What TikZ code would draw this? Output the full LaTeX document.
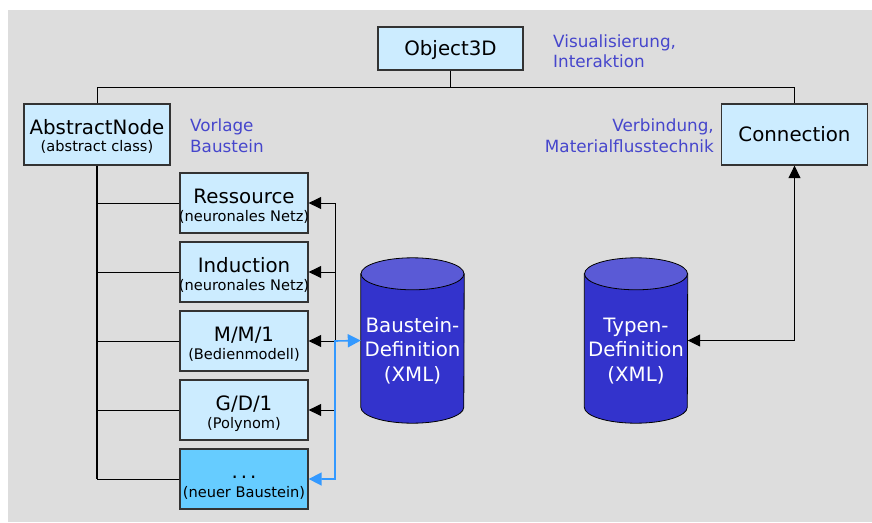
\documentclass[tikz,border=0pt]{standalone}
\usepackage{fontspec}
\setmainfont{DejaVu Sans}
\usetikzlibrary{arrows.meta,calc}
\definecolor{bg}{HTML}{DDDDDD}
\definecolor{boxfill}{HTML}{CCECFF}
\definecolor{newfill}{HTML}{66CCFF}
\definecolor{boxline}{HTML}{333333}
\definecolor{notecol}{HTML}{4646CC}
\definecolor{cylbody}{HTML}{3333CC}
\definecolor{cyltop}{HTML}{5A5AD6}
\definecolor{bluearrow}{HTML}{3399FF}
\tikzset{
  classbox/.style={draw=boxline, line width=1.3pt, fill=boxfill, inner sep=0pt, minimum width=128pt, minimum height=60pt},
  bigbox/.style={classbox, minimum width=146pt, minimum height=61pt},
  topbox/.style={classbox, minimum width=145pt, minimum height=43pt},
  titletext/.style={inner sep=0pt, anchor=base, font=\fontsize{19.8}{22}\selectfont},
  subtext/.style={inner sep=0pt, anchor=base, font=\fontsize{14.6}{16}\selectfont},
  notetext/.style={inner sep=0pt, anchor=base west, text=notecol, font=\fontsize{16.8}{20}\selectfont},
  notetextr/.style={notetext, anchor=base east},
  cyltext/.style={inner sep=0pt, anchor=base, text=white, font=\fontsize{19.8}{22}\selectfont},
  conn/.style={draw=black, line width=1pt},
  tip/.style={-{Triangle[length=12.5pt,width=12pt]}},
  bluetip/.style={{Triangle[length=13pt,width=13pt]}-{Triangle[length=13pt,width=13pt]}},
  cylarea/.style={inner sep=0pt, minimum width=103pt, minimum height=165pt},
}
\begin{document}
\begin{tikzpicture}[x=1pt,y=-1pt]
\useasboundingbox (0,0) rectangle (872,522);
\fill[bg] (8,10) rectangle (872,522);

% boxes
\node[topbox] (obj) at (450.5,48.5) {};
\node[titletext] (objT) at ($(obj.center)+(0,7)$) {Object3D};
\node[bigbox] (abs) at (97,134.5) {};
\node[titletext] (absT) at ($(abs.center)+(0,0)$) {AbstractNode};
\node[subtext] (absS) at ($(abs.center)+(0,17)$) {(abstract class)};
\node[bigbox] (con) at (794.5,134.5) {};
\node[titletext] (conT) at ($(con.center)+(0,7)$) {Connection};

\node[classbox] (res) at (244,203) {};
\node[titletext] (resT) at ($(res.center)+(0,0)$) {Ressource};
\node[subtext] (resS) at ($(res.center)+(0,18)$) {(neuronales Netz)};
\node[classbox] (ind) at (244,272) {};
\node[titletext] (indT) at ($(ind.center)+(0,0)$) {Induction};
\node[subtext] (indS) at ($(ind.center)+(0,18)$) {(neuronales Netz)};
\node[classbox] (mm) at (244,341) {};
\node[titletext] (mmT) at ($(mm.center)+(0,0)$) {M/M/1};
\node[subtext] (mmS) at ($(mm.center)+(0,18)$) {(Bedienmodell)};
\node[classbox] (gd) at (244,410) {};
\node[titletext] (gdT) at ($(gd.center)+(0,0)$) {G/D/1};
\node[subtext] (gdS) at ($(gd.center)+(0,18)$) {(Polynom)};
\node[classbox, fill=newfill] (nb) at (244,479) {};
\node[titletext] (nbT) at ($(nb.center)+(0,-1)$) {.\hspace{3pt}.\hspace{3pt}.};
\node[subtext] (nbS) at ($(nb.center)+(0,18)$) {(neuer Baustein)};

% notes
\node[notetext] (n1) at (553,47) {Visualisierung,};
\node[notetext] (n2) at (553,67) {Interaktion};
\node[notetext] (n3) at (190,131) {Vorlage};
\node[notetext] (n4) at (190,152) {Baustein};
\node[notetextr] (n5) at (714,131) {Verbindung,};
\node[notetextr] (n6) at (714,152) {Materialflusstechnik};

% cylinders
\node[cylarea] (bst) at (412.5,340.5) {};
\node[cylarea] (typ) at (636,340.5) {};
\foreach \c in {bst,typ}{
  \filldraw[fill=cylbody, draw=black, line width=0.8pt]
    ($(\c.north west)+(0,16)$) -- ($(\c.south west)+(0,-16)$)
    arc[start angle=180, end angle=360, x radius=51.5, y radius=-16]
    -- ($(\c.north east)+(0,16)$) -- cycle;
  \filldraw[fill=cyltop, draw=black, line width=0.8pt]
    ($(\c.north)+(0,16)$) ellipse[x radius=51.5, y radius=16];
}
\node[cyltext] (bst1) at (412.5,332) {Baustein-};
\node[cyltext] (bst2) at (412.5,356.5) {Definition};
\node[cyltext] (bst3) at (412.5,381) {(XML)};
\node[cyltext] (typ1) at (636,332) {Typen-};
\node[cyltext] (typ2) at (636,356.5) {Definition};
\node[cyltext] (typ3) at (636,381) {(XML)};

% hierarchy lines
\coordinate (bus) at (450.5,87);
\draw[conn] (obj.south) -- (obj.south |- bus);
\draw[conn] (abs.north) -- (abs.north |- bus) -- (con.north |- bus) -- (con.north);
\draw[conn, line width=2pt] (abs.south) -- (abs.south |- nb.west);
\draw[conn] (abs.south |- res.west) -- (res.west);
\draw[conn] (abs.south |- ind.west) -- (ind.west);
\draw[conn] (abs.south |- mm.west) -- (mm.west);
\draw[conn] (abs.south |- gd.west) -- (gd.west);
\draw[conn] (abs.south |- nb.west) -- (nb.west);

% definition arrows
\coordinate (sp) at (335,341);
\draw[conn, tip] (sp) |- (res.east);
\draw[conn, tip] (sp) |- (ind.east);
\draw[conn, tip] (sp) -- (mm.east);
\draw[conn, tip] (gd.east -| sp) -- (gd.east);
\draw[draw=bluearrow, line width=1.6pt, bluetip] (nb.east) -| (sp) -- (bst.west);
\draw[conn, {Triangle[length=12.5pt,width=12pt]}-{Triangle[length=12.5pt,width=12pt]}] (con.south) |- (typ.east);
\end{tikzpicture}
\end{document}
